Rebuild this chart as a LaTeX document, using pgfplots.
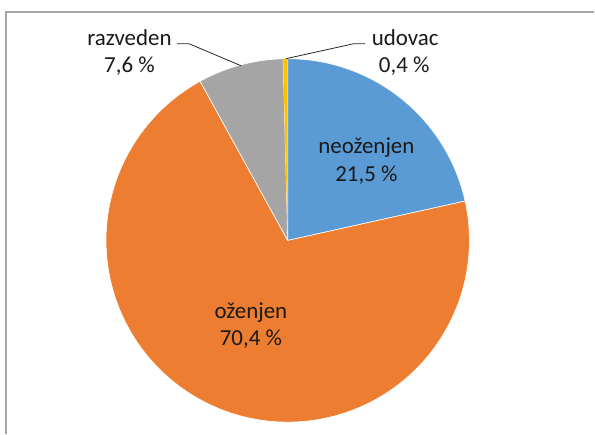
\documentclass[border=0pt]{standalone}
\usepackage{pgfplots}
\pgfplotsset{compat=1.18}
\usepackage{fontspec}
\setmainfont{Carlito}
\definecolor{cBlue}{HTML}{5B9BD5}
\definecolor{cOrange}{HTML}{ED7D31}
\definecolor{cGray}{HTML}{A5A5A5}
\definecolor{cYellow}{HTML}{FFC000}
\definecolor{cFrame}{HTML}{A6A6A6}
\begin{document}
\begin{tikzpicture}
% data (percent)
\def\vA{21.5}% neozenjen
\def\vB{70.4}% ozenjen
\def\vC{7.6}% razveden
\def\vD{0.4}% udovac
\pgfmathsetmacro{\tot}{\vA+\vB+\vC+\vD}
\pgfmathsetmacro{\aO}{90}
\pgfmathsetmacro{\aA}{\aO-\vA/\tot*360}
\pgfmathsetmacro{\aB}{\aA-\vB/\tot*360}
\pgfmathsetmacro{\aC}{\aB-\vC/\tot*360}
\pgfmathsetmacro{\aD}{\aC-\vD/\tot*360}
\def\cx{289}\def\cy{192.5}\def\r{182.5}
\begin{axis}[
  width=595pt, height=434pt, scale only axis,
  xmin=0, xmax=595, ymin=0, ymax=434,
  hide axis, clip=false,
  every axis plot/.append style={line join=round},
]
\path (axis cs:0,0) rectangle (axis cs:595,434);
\draw[cFrame, line width=1.3pt] (axis cs:6,-2) -- (axis cs:6,422) -- (axis cs:597,422);
\addplot[fill=cBlue, draw=white, line width=0.6pt, domain=\aA:\aO, samples=60, variable=\t]
  ({\cx+\r*cos(\t)},{\cy+\r*sin(\t)}) -- (axis cs:\cx,\cy) -- cycle;
\addplot[fill=cOrange, draw=white, line width=0.6pt, domain=\aB:\aA, samples=160, variable=\t]
  ({\cx+\r*cos(\t)},{\cy+\r*sin(\t)}) -- (axis cs:\cx,\cy) -- cycle;
\addplot[fill=cGray, draw=white, line width=0.6pt, domain=\aC:\aB, samples=30, variable=\t]
  ({\cx+\r*cos(\t)},{\cy+\r*sin(\t)}) -- (axis cs:\cx,\cy) -- cycle;
\addplot[fill=cYellow, draw=none, domain=\aD:\aC, samples=5, variable=\t]
  ({\cx+\r*cos(\t)},{\cy+\r*sin(\t)}) -- (axis cs:\cx,\cy) -- cycle;
% leader lines
\draw[black!85, line width=0.8pt] (axis cs:178,390) -- (axis cs:190,390) -- (axis cs:242,368);
\draw[black!85, line width=0.8pt] (axis cs:367,390) -- (axis cs:355,390) -- (axis cs:287,375);
% labels
\begin{scope}[every node/.style={font=\fontsize{23}{28}\selectfont, text=black!90, anchor=base, inner sep=0pt}]
\node at (axis cs:368,280) {neoženjen};
\node at (axis cs:368,252) {21,5 \%};
\node at (axis cs:252,114) {oženjen};
\node at (axis cs:252,87) {70,4 \%};
\node at (axis cs:130,388) {razveden};
\node at (axis cs:130,361) {7,6 \%};
\node at (axis cs:407,388) {udovac};
\node at (axis cs:406,361) {0,4 \%};
\end{scope}
\end{axis}
\end{tikzpicture}
\end{document}
